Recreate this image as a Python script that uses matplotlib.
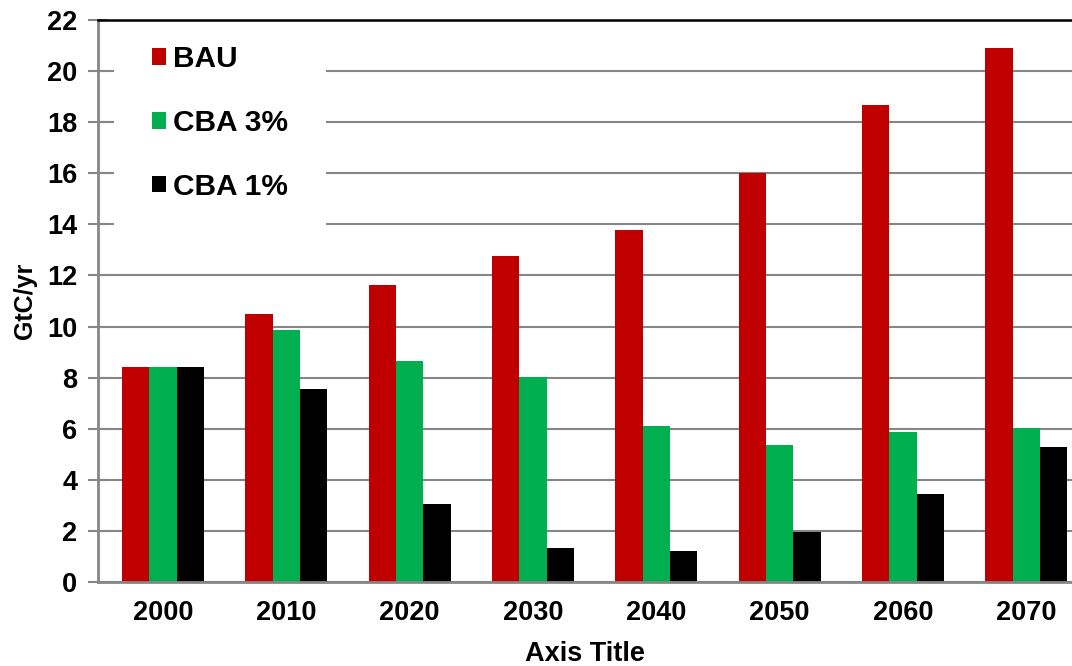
import matplotlib
matplotlib.use("Agg")
import matplotlib.pyplot as plt
import numpy as np

years = ["2000", "2010", "2020", "2030", "2040", "2050", "2060", "2070"]
bau = [8.4, 10.5, 11.63, 12.77, 13.78, 16.02, 18.67, 20.9]
cba3 = [8.4, 9.86, 8.65, 8.02, 6.11, 5.36, 5.87, 6.03]
cba1 = [8.4, 7.56, 3.06, 1.33, 1.22, 1.96, 3.44, 5.28]

plt.rcParams['font.family'] = ['Liberation Sans', 'DejaVu Sans']
plt.rcParams['font.weight'] = 'bold'

fig = plt.figure(figsize=(10.72, 6.66), dpi=100)
ax = fig.add_axes([98/1072, 1-582/666, 974/1072, 562/666])

x = np.arange(len(years))
w = 0.222
ax.bar(x - w, bau, w, color='#C00000', label='BAU')
ax.bar(x, cba3, w, color='#00B050', label='CBA 3%')
ax.bar(x + w, cba1, w, color='#000000', label='CBA 1%')

ax.set_xlim(-0.527, 7.37)
ax.set_ylim(0, 22)
ax.set_yticks(np.arange(0, 23, 2))
ax.set_xticks(x)
ax.set_xticklabels(years)

ax.set_axisbelow(True)
ax.yaxis.grid(True, color='#868686', linewidth=1.5)

for s in ['left', 'bottom']:
    ax.spines[s].set_color('#868686')
    ax.spines[s].set_linewidth(2)
ax.spines['right'].set_visible(False)
ax.spines['top'].set_color('black')
ax.spines['top'].set_linewidth(1.8)

ax.tick_params(axis='y', direction='inout', length=15, width=1.5, color='#868686',
               labelsize=19.5, pad=7.5)
ax.tick_params(axis='x', length=0, labelsize=19.5, pad=13)

ax.set_xlabel('Axis Title', fontsize=19.5, fontweight='bold', labelpad=11)
ax.set_ylabel('GtC/yr', fontsize=18, fontweight='bold', labelpad=7)

leg = ax.legend(loc='upper left', bbox_to_anchor=(0.0164, 1.0228), frameon=True,
                fontsize=21.5, handlelength=0.48, handleheight=0.48, handletextpad=0.23,
                labelspacing=1.2, borderpad=1.27, fancybox=False, borderaxespad=0)
leg.get_frame().set_facecolor('white')
leg.get_frame().set_edgecolor('none')
leg.get_frame().set_alpha(1)
leg.set_zorder(1)

fig.savefig('out.png', dpi=100)
